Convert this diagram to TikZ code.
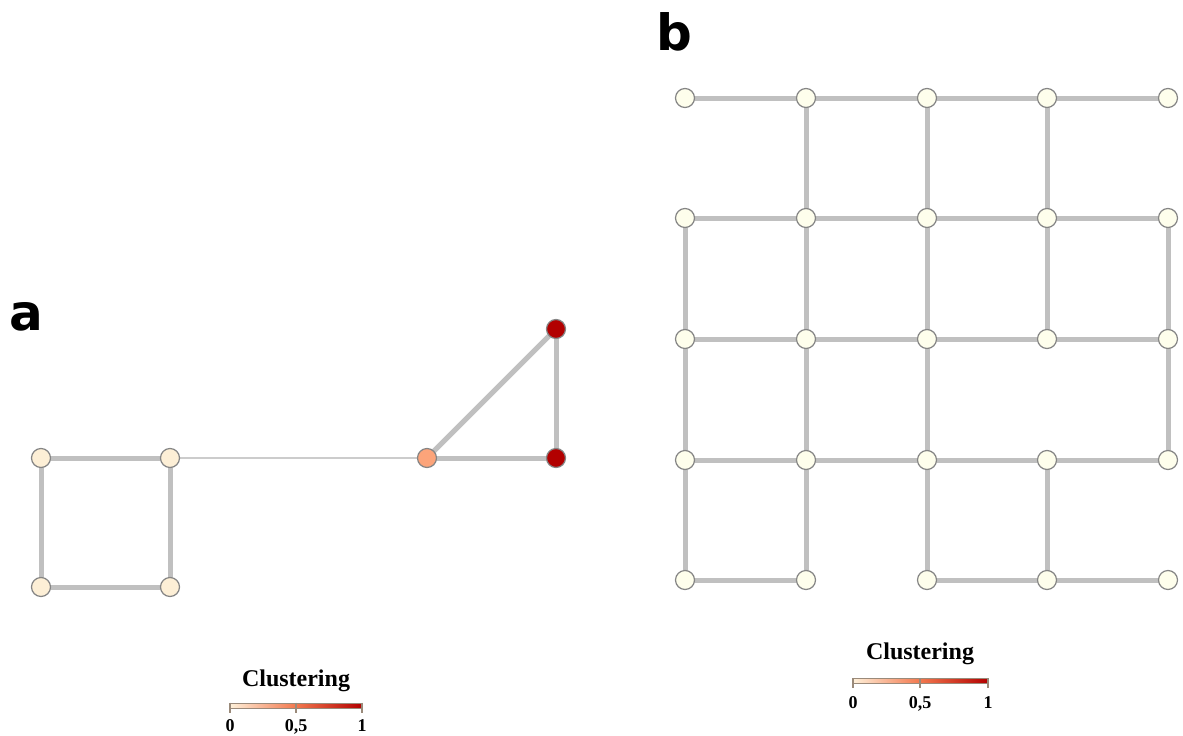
\documentclass[tikz,border=0pt]{standalone}
\usepackage{fontspec}
\setmainfont{Liberation Serif}
\newfontfamily\lettfont{DejaVu Sans}
\definecolor{edgec}{HTML}{C0C0C0}
\definecolor{thinc}{HTML}{CCCCCC}
\definecolor{nodeb}{HTML}{858585}
\definecolor{cLow}{HTML}{FDEFD6}
\definecolor{cMid}{HTML}{FCA47A}
\definecolor{cHigh}{HTML}{B20000}
\definecolor{cIvory}{HTML}{FEFEEC}
\definecolor{gStart}{HTML}{FEF0D9}
\definecolor{gMid}{HTML}{F3784E}
\definecolor{gEnd}{HTML}{B30000}
\definecolor{tickc}{HTML}{9A8A7A}
\pgfdeclarelayer{background}
\pgfsetlayers{background,main}
\tikzset{
  vtx/.style={circle,draw=nodeb,line width=1.2pt,minimum size=19pt,inner sep=0pt},
  edg/.style={edgec,line width=5pt},
  thinedg/.style={thinc,line width=2pt},
  legtitle/.style={font=\fontsize{24}{26}\selectfont\bfseries,inner sep=0pt},
  leglab/.style={font=\fontsize{18}{20}\selectfont\bfseries,inner sep=0pt,anchor=base},
  panellab/.style={font=\lettfont\fontsize{50}{52}\selectfont\bfseries,inner sep=0pt,anchor=base west},
  tickl/.style={tickc,line width=1.2pt}
}
\begin{document}
\begin{tikzpicture}[x=1pt,y=-1pt]
\useasboundingbox (0,0) rectangle (1183,736);
\begin{pgfonlayer}{background}
\fill[white] (0,0) rectangle (1183,736);
\end{pgfonlayer}
% ---------- panel a ----------
\node[panellab] (la) at (9,330) {a};
\node[vtx,fill=cLow] (a1) at (41,458) {};
\node[vtx,fill=cLow] (a2) at (170,458) {};
\node[vtx,fill=cLow] (a3) at (41,587) {};
\node[vtx,fill=cLow] (a4) at (170,587) {};
\node[vtx,fill=cMid] (a5) at (427,458) {};
\node[vtx,fill=cHigh] (a6) at (556,458) {};
\node[vtx,fill=cHigh] (a7) at (556,329) {};
\begin{pgfonlayer}{background}
\draw[edg] (a1.center) -- (a2.center);
\draw[edg] (a1.center) -- (a3.center);
\draw[edg] (a2.center) -- (a4.center);
\draw[edg] (a3.center) -- (a4.center);
\draw[thinedg] (a2.center) -- (a5.center);
\draw[edg] (a5.center) -- (a6.center);
\draw[edg] (a5.center) -- (a7.center);
\draw[edg] (a7.center) -- (a6.center);
\end{pgfonlayer}
% legend a
\node[legtitle] (ta) at (296,681) {Clustering};
\coordinate (ba0) at (230,705.5);
\coordinate (ba1) at (296,705.5);
\coordinate (ba2) at (362,705.5);
\shade[left color=gStart,right color=gMid] (230,703) rectangle (296,708);
\shade[left color=gMid,right color=gEnd] (296,703) rectangle (362,708);
\draw[tickc,line width=0.6pt] (230,703) rectangle (362,708);
\foreach \p in {ba0,ba1,ba2}{\draw[tickl] ([yshift=3pt]\p) -- ([yshift=-7pt]\p);}
\node[leglab] (la0) at (230,731) {0};
\node[leglab] (la1) at (296,731) {0,5};
\node[leglab] (la2) at (362,731) {1};
% ---------- panel b ----------
\node[panellab] (lb) at (656,50) {b};
\def\xs{{685,806,927,1047,1168}}
\def\ys{{98,218,339,460,580}}
\foreach \i in {0,...,4}{
  \foreach \j in {0,...,4}{
    \pgfmathsetmacro{\xx}{\xs[\i]}
    \pgfmathsetmacro{\yy}{\ys[\j]}
    \node[vtx,fill=cIvory] (n\i\j) at (\xx,\yy) {};
  }
}
\begin{pgfonlayer}{background}
% horizontal edges
\foreach \a/\b in {n00/n10,n10/n20,n20/n30,n30/n40,
                   n01/n11,n11/n21,n21/n31,n31/n41,
                   n02/n12,n12/n22,n22/n32,n32/n42,
                   n03/n13,n13/n23,n23/n33,n33/n43,
                   n04/n14,n24/n34,n34/n44}{\draw[edg] (\a.center) -- (\b.center);}
% vertical edges
\foreach \a/\b in {n10/n11,n20/n21,n30/n31,
                   n01/n02,n11/n12,n21/n22,n31/n32,n41/n42,
                   n02/n03,n12/n13,n22/n23,n42/n43,
                   n03/n04,n13/n14,n23/n24,n33/n34}{\draw[edg] (\a.center) -- (\b.center);}
\end{pgfonlayer}
% legend b
\node[legtitle] (tb) at (920,654) {Clustering};
\coordinate (bb0) at (853,681);
\coordinate (bb1) at (920,681);
\coordinate (bb2) at (988,681);
\shade[left color=gStart,right color=gMid] (853,678.5) rectangle (920,683.5);
\shade[left color=gMid,right color=gEnd] (920,678.5) rectangle (988,683.5);
\draw[tickc,line width=0.6pt] (853,678.5) rectangle (988,683.5);
\foreach \p in {bb0,bb1,bb2}{\draw[tickl] ([yshift=3pt]\p) -- ([yshift=-7pt]\p);}
\node[leglab] (lb0) at (853,708) {0};
\node[leglab] (lb1) at (920,708) {0,5};
\node[leglab] (lb2) at (988,708) {1};
\end{tikzpicture}
\end{document}
